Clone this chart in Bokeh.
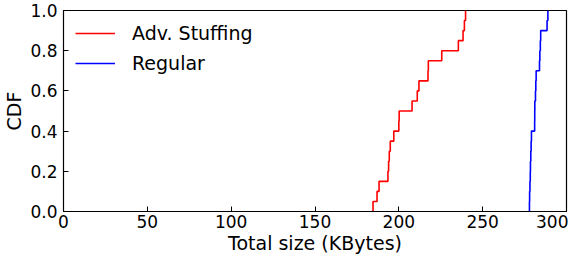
from bokeh.plotting import figure
from bokeh.models import Range1d, FixedTicker, NumeralTickFormatter
from bokeh.embed import file_html
from bokeh.resources import INLINE

# Sorted sample values (KBytes)
adv_stuffing_sizes = [184.6, 187.0, 188.2, 193.5, 193.9, 194.3, 194.9, 197.0, 200.0, 200.2,
                      207.9, 211.0, 212.0, 217.4, 217.6, 225.6, 235.5, 238.3, 239.1, 239.8]
regular_sizes = [277.9, 278.0, 278.2, 278.4, 278.5, 278.7, 278.9, 279.1, 281.0, 281.05,
                 281.1, 281.5, 281.7, 281.9, 283.9, 284.1, 284.4, 284.6, 288.4, 288.9]

x_ticks = [0, 50, 100, 150, 200, 250, 300]
y_ticks = [0.0, 0.2, 0.4, 0.6, 0.8, 1.0]

FONT = "DejaVu Sans"
TICK_FS = "17px"
LABEL_FS = "19px"


def cdf_steps(vals):
    s = sorted(vals)
    n = len(s)
    xs = [s[0]] + s
    ys = [i / n for i in range(n + 1)]
    return xs, ys


p = figure(width=568, height=256, output_backend="svg", toolbar_location=None,
           x_range=Range1d(0, 300), y_range=Range1d(0, 1),
           min_border_left=54, min_border_right=2, min_border_top=10, min_border_bottom=44)

ax, ay = cdf_steps(adv_stuffing_sizes)
rx, ry = cdf_steps(regular_sizes)
p.step(ax, ay, mode="after", line_color="#ff0000", line_width=1.6, legend_label="Adv. Stuffing")
p.step(rx, ry, mode="after", line_color="#0000ff", line_width=1.6, legend_label="Regular")

p.xgrid.visible = False
p.ygrid.visible = False
p.outline_line_color = "black"
p.outline_line_width = 1.2
p.outline_line_alpha = 1.0

p.xaxis.ticker = FixedTicker(ticks=x_ticks)
p.yaxis.ticker = FixedTicker(ticks=y_ticks)
p.yaxis.formatter = NumeralTickFormatter(format="0.0")
p.xaxis.axis_label = "Total size (KBytes)"
p.yaxis.axis_label = "CDF"

for axis in (p.xaxis[0], p.yaxis[0]):
    axis.major_tick_in = 5
    axis.major_tick_out = 0
    axis.minor_tick_line_color = None
    axis.axis_line_color = "black"
    axis.major_tick_line_color = "black"
    axis.major_label_text_font = FONT
    axis.major_label_text_font_size = TICK_FS
    axis.major_label_text_color = "black"
    axis.axis_label_text_font = FONT
    axis.axis_label_text_font_size = LABEL_FS
    axis.axis_label_text_font_style = "normal"
    axis.axis_label_text_color = "black"

p.xaxis.major_label_standoff = 3
p.xaxis.axis_label_standoff = 1
p.yaxis.major_label_standoff = 6
p.yaxis.axis_label_standoff = 2

lg = p.legend[0]
lg.location = "top_left"
lg.border_line_alpha = 0
lg.background_fill_alpha = 0
lg.label_text_font = FONT
lg.label_text_font_size = LABEL_FS
lg.label_text_color = "black"
lg.glyph_width = 40
lg.glyph_height = 20
lg.label_height = 20
lg.spacing = 8
lg.label_standoff = 17
lg.margin = 4
lg.padding = 8

open("out.html", "w").write(file_html(p, INLINE))
